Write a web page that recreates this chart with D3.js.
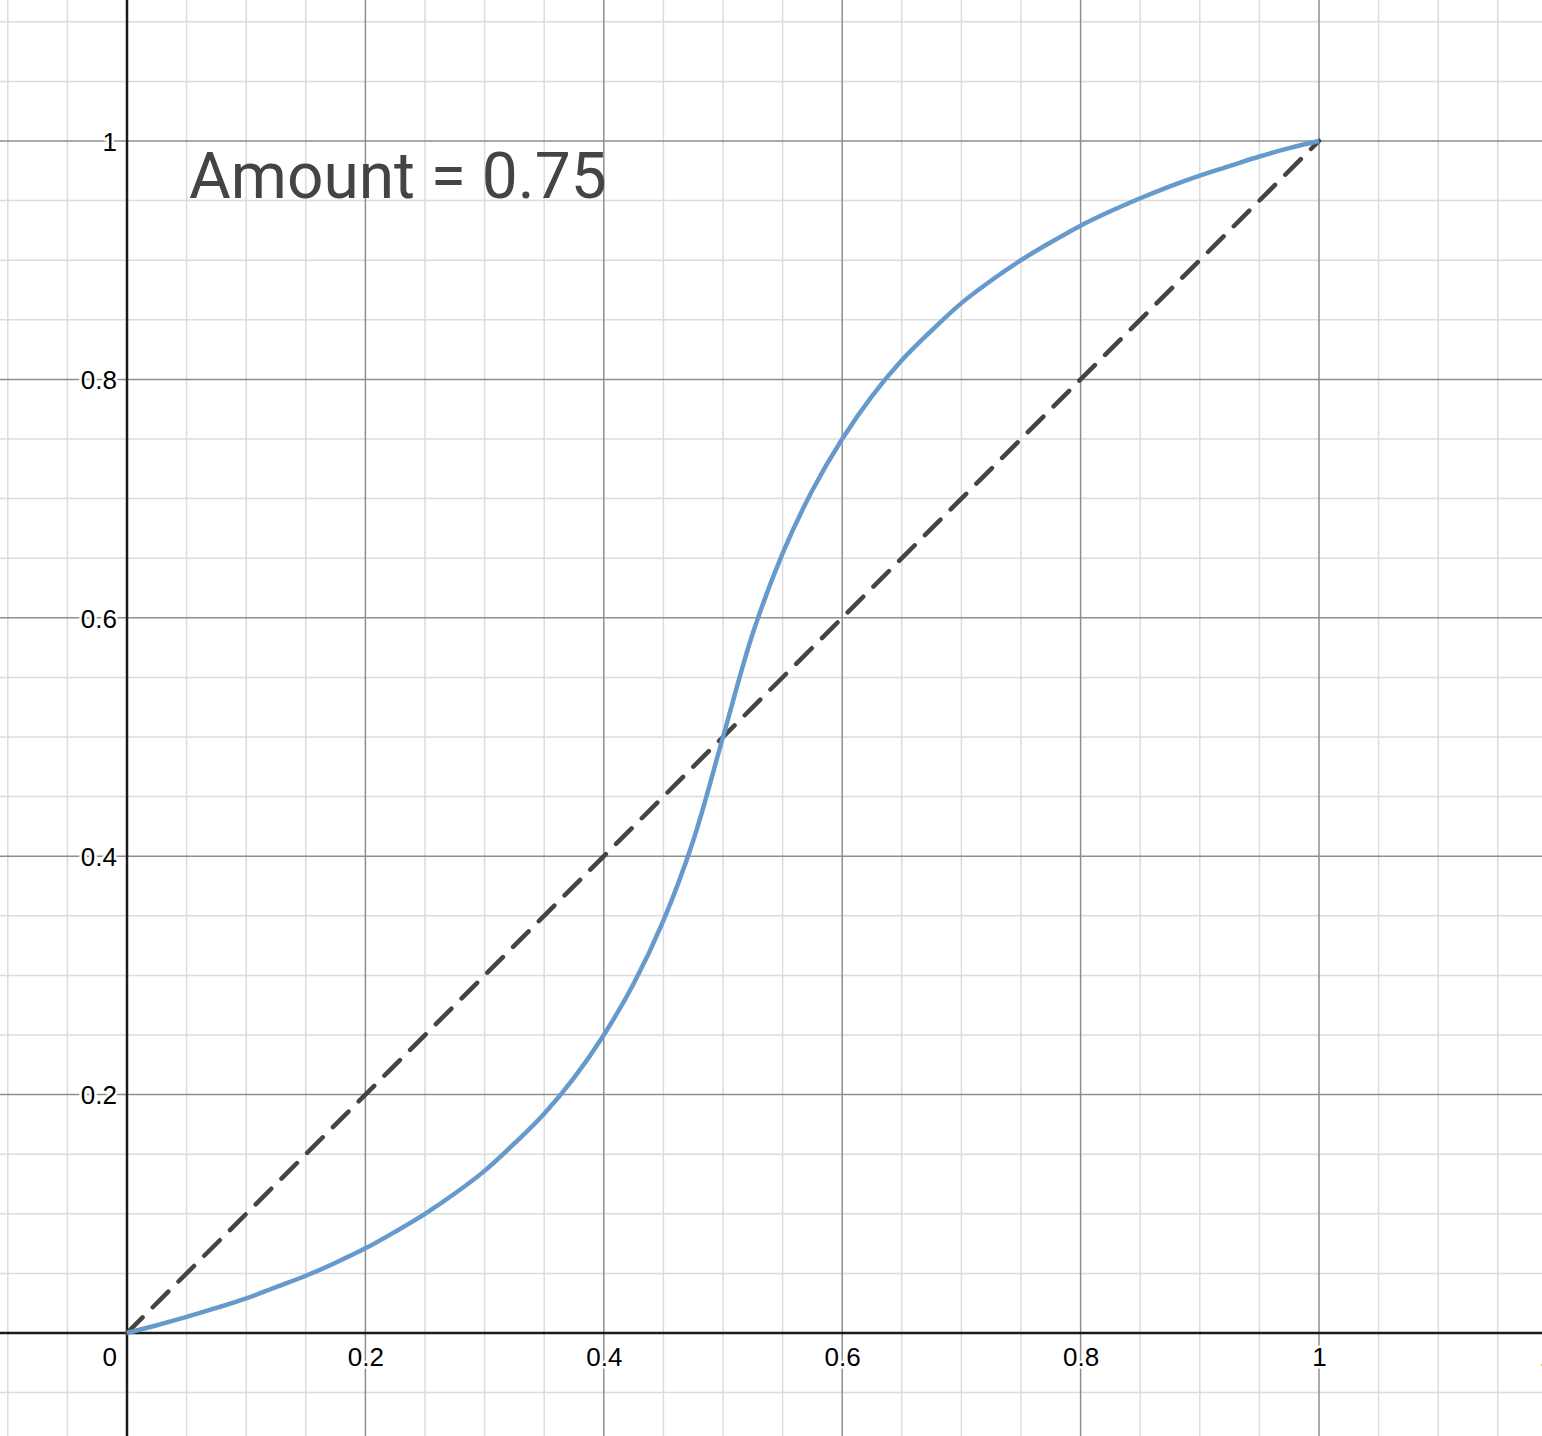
<!DOCTYPE html>
<html>
<head>
<meta charset="utf-8">
<script src="https://cdn.jsdelivr.net/npm/d3@7"></script>
<style>
  body { margin: 0; background: #fff; }
  svg { display: block; }
  .lbl text { font-family: Arial, "Liberation Sans", sans-serif; font-size: 26px; fill: #000;
              paint-order: stroke; stroke: #fff; stroke-width: 5px; stroke-linejoin: round; }
</style>
</head>
<body>
<svg width="1542" height="1436"></svg>
<script>
let width = 1542,
    height = 1436;

// curve (Amount = 0.75)
let curveX = [0, 0.025, 0.05, 0.075, 0.1, 0.125, 0.15, 0.175, 0.2, 0.225, 0.25, 0.275, 0.3, 0.325, 0.35, 0.375, 0.4, 0.425, 0.45, 0.475,
              0.5, 0.525, 0.55, 0.575, 0.6, 0.625, 0.65, 0.675, 0.7, 0.725, 0.75, 0.775, 0.8, 0.825, 0.85, 0.875, 0.9, 0.925, 0.95, 0.975, 1];
let curveY = [0, 0.0065, 0.0135, 0.021, 0.029, 0.0385, 0.048, 0.059, 0.071, 0.085, 0.1, 0.117, 0.136, 0.159, 0.184, 0.214, 0.25, 0.293, 0.346, 0.413,
              0.5, 0.587, 0.654, 0.707, 0.75, 0.786, 0.816, 0.841, 0.864, 0.883, 0.9, 0.915, 0.929, 0.941, 0.952, 0.962, 0.971, 0.979, 0.987, 0.994, 1];
let diagX = [0, 1];
let diagY = [0, 1];

let xTicks = [0.2, 0.4, 0.6, 0.8, 1, 1.2];
let yTicks = [0.2, 0.4, 0.6, 0.8, 1];
let title = "Amount = 0.75";

let x = d3.scaleLinear().domain([0, 1]).range([127, 1319]);
let y = d3.scaleLinear().domain([0, 1]).range([1333, 141]);

let svg = d3.select("svg");

// grid, minor every 0.05, major every 0.2
let xi = d3.range(Math.ceil(x.invert(0) / 0.05), Math.floor(x.invert(width) / 0.05) + 1);
let yi = d3.range(Math.ceil(y.invert(height) / 0.05), Math.floor(y.invert(0) / 0.05) + 1);

let grid = svg.append("g");
grid.selectAll(".vx")
  .data(xi.filter(i => i % 4 != 0))
  .enter().append("line")
    .attr("x1", i => x(i * 0.05)).attr("x2", i => x(i * 0.05))
    .attr("y1", 0).attr("y2", height)
    .attr("stroke", "#dcdcdc").attr("stroke-width", 1.5);
grid.selectAll(".hy")
  .data(yi.filter(i => i % 4 != 0))
  .enter().append("line")
    .attr("y1", i => y(i * 0.05)).attr("y2", i => y(i * 0.05))
    .attr("x1", 0).attr("x2", width)
    .attr("stroke", "#dcdcdc").attr("stroke-width", 1.5);
grid.selectAll(".vxm")
  .data(xi.filter(i => i % 4 == 0 && i != 0))
  .enter().append("line")
    .attr("x1", i => x(i * 0.05)).attr("x2", i => x(i * 0.05))
    .attr("y1", 0).attr("y2", height)
    .attr("stroke", "#8e8e8e").attr("stroke-width", 1.5);
grid.selectAll(".hym")
  .data(yi.filter(i => i % 4 == 0 && i != 0))
  .enter().append("line")
    .attr("y1", i => y(i * 0.05)).attr("y2", i => y(i * 0.05))
    .attr("x1", 0).attr("x2", width)
    .attr("stroke", "#8e8e8e").attr("stroke-width", 1.5);

// labels
let xAxis = svg.append("g")
    .attr("class", "lbl")
    .attr("transform", "translate(0," + 1366 + ")")
    .call(d3.axisBottom(x).tickValues(xTicks).tickSize(0).tickFormat(d3.format("")));
xAxis.select(".domain").remove();
xAxis.selectAll("text").attr("y", 0).attr("dy", 0);

let yAxis = svg.append("g")
    .attr("class", "lbl")
    .attr("transform", "translate(" + 117 + ",0)")
    .call(d3.axisLeft(y).tickValues(yTicks).tickSize(0).tickFormat(d3.format("")));
yAxis.select(".domain").remove();
yAxis.selectAll("text").attr("x", 0).attr("dy", "0.36em").attr("text-anchor", "end");

svg.append("g").attr("class", "lbl")
  .append("text")
    .attr("x", 117).attr("y", 1366)
    .attr("text-anchor", "end")
    .text("0");

// axes
svg.append("line")
    .attr("x1", 0).attr("x2", width).attr("y1", y(0)).attr("y2", y(0))
    .attr("stroke", "#1a1a1a").attr("stroke-width", 2.5);
svg.append("line")
    .attr("x1", x(0)).attr("x2", x(0)).attr("y1", 0).attr("y2", height)
    .attr("stroke", "#1a1a1a").attr("stroke-width", 2.5);

// diagonal
let line = d3.line().x(d => x(d[0])).y(d => y(d[1]));
svg.append("path")
    .datum(d3.zip(diagX, diagY))
    .attr("d", line)
    .attr("fill", "none")
    .attr("stroke", "#444")
    .attr("stroke-width", 4.5)
    .attr("stroke-linecap", "round")
    .attr("stroke-dasharray", "22 14.4");

// curve
svg.append("path")
    .datum(d3.zip(curveX, curveY))
    .attr("d", line.curve(d3.curveCatmullRom.alpha(0.5)))
    .attr("fill", "none")
    .attr("stroke", "#6699cc")
    .attr("stroke-width", 4.5)
    .attr("stroke-linejoin", "round");

svg.append("text")
    .attr("x", 189).attr("y", 198)
    .attr("font-family", "Roboto, sans-serif")
    .attr("font-size", 64)
    .attr("fill", "#444")
    .text(title);
</script>
</body>
</html>
